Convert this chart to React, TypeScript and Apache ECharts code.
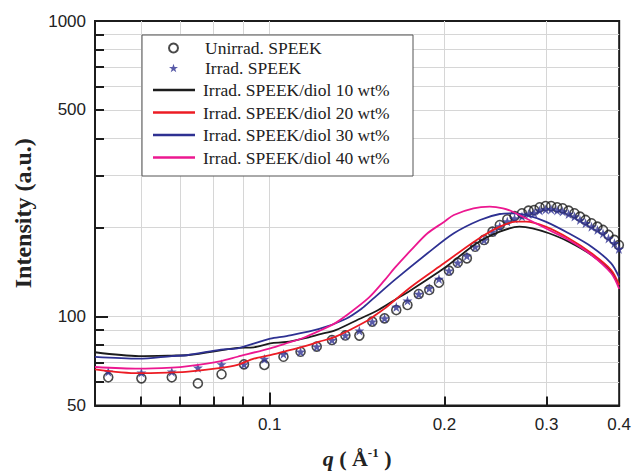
import React, { useEffect, useRef } from "react";
import * as echarts from "echarts";

// ---- data (q in 1/Å, intensity in a.u.) ----
const qScatter = [0.0527, 0.0601, 0.0678, 0.0752, 0.0826, 0.0903, 0.0979, 0.1056, 0.113, 0.1205, 0.128, 0.135, 0.1427, 0.1502, 0.1577, 0.1652, 0.1727, 0.1806, 0.1883, 0.1957, 0.2036, 0.2108, 0.2186, 0.2259, 0.234, 0.242, 0.2491, 0.2566, 0.2641, 0.272, 0.2792, 0.2855, 0.2918, 0.2987, 0.3054, 0.3127, 0.3197, 0.3273, 0.335, 0.3424, 0.3501, 0.3584, 0.3669, 0.3752, 0.3834, 0.3925, 0.3995];
const unirradSPEEK = [62.3, 61.8, 62.3, 59.4, 63.8, 68.9, 68.6, 73.1, 76.0, 79.1, 83.3, 86.3, 86.2, 96.1, 98.6, 105.2, 109.4, 119.2, 123.0, 130.2, 143.0, 152.1, 157.4, 172.3, 181.6, 193.7, 204.0, 213.3, 218.9, 223.5, 228.1, 229.3, 234.2, 236.6, 236.6, 234.2, 232.4, 228.1, 223.5, 217.7, 212.2, 206.8, 201.4, 196.3, 188.8, 181.6, 174.6];
const irradSPEEK = [65.1, 64.6, 65.1, 67.1, 68.9, 68.9, 71.8, 74.7, 76.0, 79.1, 83.3, 86.3, 89.6, 96.1, 98.6, 107.7, 113.1, 119.2, 124.6, 134.0, 143.0, 152.1, 160.3, 172.3, 181.6, 193.7, 201.7, 209.8, 214.6, 218.2, 222.3, 224.1, 228.5, 230.3, 230.3, 228.5, 226.7, 222.3, 218.0, 212.2, 206.8, 201.4, 196.3, 191.0, 183.7, 177.0, 169.3];

const qDiol10 = [0.05, 0.0595, 0.0678, 0.0724, 0.088, 0.0939, 0.1002, 0.1069, 0.1141, 0.1217, 0.1299, 0.1423, 0.1538, 0.1642, 0.1753, 0.1996, 0.2273, 0.2491, 0.2692, 0.2836, 0.3027, 0.3273, 0.3584, 0.3875, 0.4];
const diol10 = [75.7, 73.5, 73.8, 74.1, 78.3, 78.7, 81.1, 82.0, 84.2, 87.0, 90.0, 97.9, 105.2, 113.8, 123.0, 145.6, 176.9, 193.7, 201.4, 198.9, 191.3, 179.2, 161.5, 141.8, 125.9];

const qDiol20 = [0.05, 0.0595, 0.0678, 0.0724, 0.0824, 0.088, 0.0939, 0.1002, 0.1069, 0.1141, 0.1217, 0.1299, 0.148, 0.1538, 0.1579, 0.1753, 0.1996, 0.2273, 0.2491, 0.2657, 0.2762, 0.2987, 0.3273, 0.3584, 0.3875, 0.4];
const diol20 = [66.3, 64.3, 64.7, 65.1, 67.0, 68.6, 72.0, 74.1, 76.5, 79.1, 82.2, 85.5, 97.4, 102.8, 106.6, 126.2, 151.4, 181.6, 201.4, 209.4, 209.4, 201.4, 184.0, 163.7, 143.7, 127.9];

const qDiol30 = [0.05, 0.0595, 0.0678, 0.0724, 0.0824, 0.088, 0.1002, 0.1069, 0.1217, 0.1351, 0.1442, 0.1499, 0.1642, 0.187, 0.2076, 0.2303, 0.2491, 0.2623, 0.2762, 0.2987, 0.3273, 0.3584, 0.3875, 0.4];
const diol30 = [73.0, 72.0, 73.5, 74.1, 77.3, 78.1, 84.2, 85.9, 90.8, 98.1, 106.6, 113.8, 133.0, 163.7, 191.3, 212.2, 222.3, 223.5, 220.6, 209.4, 191.3, 172.3, 151.4, 135.6];

const qDiol40 = [0.05, 0.0595, 0.0678, 0.0724, 0.0824, 0.088, 0.1002, 0.1069, 0.1141, 0.1217, 0.1299, 0.1351, 0.148, 0.1579, 0.1642, 0.1753, 0.187, 0.1996, 0.2076, 0.2244, 0.2394, 0.2523, 0.2623, 0.2762, 0.2987, 0.3273, 0.3584, 0.3875, 0.4];
const diol40 = [67.5, 66.6, 67.2, 68.0, 70.7, 73.1, 78.1, 81.2, 84.6, 89.4, 95.2, 100.4, 115.6, 133.0, 146.0, 168.0, 191.3, 208.9, 220.6, 232.4, 235.3, 232.4, 226.3, 215.0, 198.9, 181.6, 161.5, 140.1, 124.0];

const seriesNames = [
  "Unirrad. SPEEK",
  "Irrad. SPEEK",
  "Irrad. SPEEK/diol 10 wt%",
  "Irrad. SPEEK/diol 20 wt%",
  "Irrad. SPEEK/diol 30 wt%",
  "Irrad. SPEEK/diol 40 wt%",
];
const lineColors = ["#1c1c1c", "#ec1c24", "#2e3192", "#ec1890"];

const X_MIN = 0.05;
const X_MAX = 0.4;
const Y_MIN = 50;
const Y_MAX = 1000;
const xTickLabels = [0.1, 0.2, 0.3, 0.4];
const xGridTicks = [0.06, 0.07, 0.08, 0.09, 0.1, 0.2, 0.3];
const xMajorTicks = [0.1];
const yTickLabels = [50, 100, 500, 1000];
const yGridTicks = [60, 70, 80, 90, 100, 200, 300, 400, 500, 600, 700, 800, 900];
const yMajorTicks = [100];

const lg = (v: number) => Math.log10(v);
const pairs = (qs: number[], vs: number[]) => qs.map((q, i) => [lg(q), lg(vs[i])]);

const STAR =
  "path://M50,0 L61.8,35.1 L98.9,35.1 L68.9,56.9 L80.3,92.1 L50,70.3 L19.7,92.1 L31.1,56.9 L1.1,35.1 L38.2,35.1 Z";

const SANS = "'Liberation Sans', Arial, sans-serif";
const SERIF = "'Liberation Serif', 'Times New Roman', serif";

export default function App() {
  const ref = useRef<HTMLDivElement>(null);

  useEffect(() => {
    if (!ref.current) return;
    const chart = echarts.init(ref.current, undefined, { renderer: "svg" });

    const axisLabelStyle = { fontFamily: SANS, fontSize: 17, color: "#222" };

    const lineData = [
      pairs(qDiol10, diol10),
      pairs(qDiol20, diol20),
      pairs(qDiol30, diol30),
      pairs(qDiol40, diol40),
    ];

    const option: any = {
      animation: false,
      backgroundColor: "#fff",
      grid: {
        left: 95,
        right: 6,
        top: 21,
        bottom: 70.5,
        show: true,
        borderColor: "#1c1c1c",
        borderWidth: 2,
        backgroundColor: "transparent",
      },
      xAxis: [
        {
          type: "value",
          min: lg(X_MIN),
          max: lg(X_MAX),
          name: "{q|q}{t| ( Å}{s|-1}{t| )}",
          nameLocation: "middle",
          nameGap: 40,
          nameTextStyle: {
            rich: {
              q: { fontFamily: SERIF, fontStyle: "italic", fontWeight: "bold", fontSize: 22, color: "#222", lineHeight: 26 },
              t: { fontFamily: SERIF, fontWeight: "bold", fontSize: 22, color: "#222", lineHeight: 26 },
              s: { fontFamily: SERIF, fontWeight: "bold", fontSize: 13, color: "#222", lineHeight: 26, verticalAlign: "top", padding: [0, 0, 10, 0] },
            },
          },
          axisLine: { show: true, lineStyle: { color: "#1c1c1c", width: 2 } },
          axisTick: {
            show: true,
            inside: true,
            length: 9,
            customValues: xGridTicks.map(lg),
            lineStyle: { color: "#1c1c1c", width: 2 },
          },
          axisLabel: {
            ...axisLabelStyle,
            margin: 10,
            customValues: xTickLabels.map(lg),
            formatter: (v: number) => String(Math.round(Math.pow(10, v) * 10) / 10),
          },
          splitLine: { show: true, lineStyle: { color: "#d6d6d6", width: 1 } },
        },
        {
          type: "value",
          min: lg(X_MIN),
          max: lg(X_MAX),
          position: "bottom",
          axisLine: { show: false },
          axisLabel: { show: false },
          splitLine: { show: false },
          axisTick: {
            show: true,
            inside: true,
            length: 13,
            customValues: xMajorTicks.map(lg),
            lineStyle: { color: "#1c1c1c", width: 2 },
          },
        },
      ],
      yAxis: [
        {
          type: "value",
          min: lg(Y_MIN),
          max: lg(Y_MAX),
          position: "left",
          name: "Intensity (a.u.)",
          nameLocation: "middle",
          nameRotate: 90,
          nameGap: 60,
          nameTextStyle: { fontFamily: SERIF, fontWeight: "bold", fontSize: 24, color: "#222" },
          axisLine: { show: true, lineStyle: { color: "#1c1c1c", width: 2 } },
          axisTick: {
            show: true,
            inside: true,
            length: 9,
            customValues: yGridTicks.map(lg),
            lineStyle: { color: "#1c1c1c", width: 2 },
          },
          axisLabel: {
            ...axisLabelStyle,
            margin: 9,
            customValues: yTickLabels.map(lg),
            formatter: (v: number) => String(Math.round(Math.pow(10, v))),
          },
          splitLine: { show: true, lineStyle: { color: "#d6d6d6", width: 1 } },
        },
        {
          type: "value",
          min: lg(Y_MIN),
          max: lg(Y_MAX),
          position: "left",
          axisLine: { show: false },
          axisLabel: { show: false },
          splitLine: { show: false },
          axisTick: {
            show: true,
            inside: true,
            length: 13,
            customValues: yMajorTicks.map(lg),
            lineStyle: { color: "#1c1c1c", width: 2 },
          },
        },
      ],
      graphic: [
        {
          type: "rect",
          z: 3,
          shape: { x: 142, y: 35, width: 271, height: 141 },
          style: { fill: "#fff", stroke: "#555", lineWidth: 1 },
        },
      ],
      legend: [
        {
          z: 5,
          data: [seriesNames[0], seriesNames[1]],
          orient: "vertical",
          left: 168,
          top: 39,
          padding: 0,
          itemWidth: 9,
          itemHeight: 9,
          itemGap: 2,
          selectedMode: false,
          textStyle: {
            fontFamily: SERIF,
            fontSize: 17.5,
            color: "#222",
            lineHeight: 18,
            padding: [0, 0, 0, 22],
          },
        },
        {
          z: 5,
          data: seriesNames.slice(2),
          orient: "vertical",
          left: 153,
          top: 81,
          padding: 0,
          icon: "rect",
          itemWidth: 42,
          itemHeight: 2.5,
          itemGap: 4.5,
          selectedMode: false,
          textStyle: {
            fontFamily: SERIF,
            fontSize: 17.5,
            color: "#222",
            lineHeight: 18,
            padding: [0, 0, 0, 3],
          },
        },
      ],
      series: [
        {
          name: seriesNames[0],
          type: "scatter",
          data: pairs(qScatter, unirradSPEEK),
          symbol: "circle",
          symbolSize: 9,
          itemStyle: { color: "rgba(255,255,255,0)", borderColor: "#1c1c1c", borderWidth: 1.6 },
        },
        {
          name: seriesNames[1],
          type: "scatter",
          data: pairs(qScatter, irradSPEEK),
          symbol: STAR,
          symbolSize: 10,
          itemStyle: { color: "#2e3192" },
        },
        ...lineData.map((d, i) => ({
          name: seriesNames[i + 2],
          type: "line",
          data: d,
          symbol: "none",
          smooth: 0.3,
          lineStyle: { color: lineColors[i], width: 1.8 },
          itemStyle: { color: lineColors[i] },
        })),
      ],
    };

    chart.setOption(option);
    return () => chart.dispose();
  }, []);

  return (
    <div
      ref={ref}
      style={{ position: "fixed", left: 0, top: 0, width: 634, height: 476, background: "#fff" }}
    />
  );
}
